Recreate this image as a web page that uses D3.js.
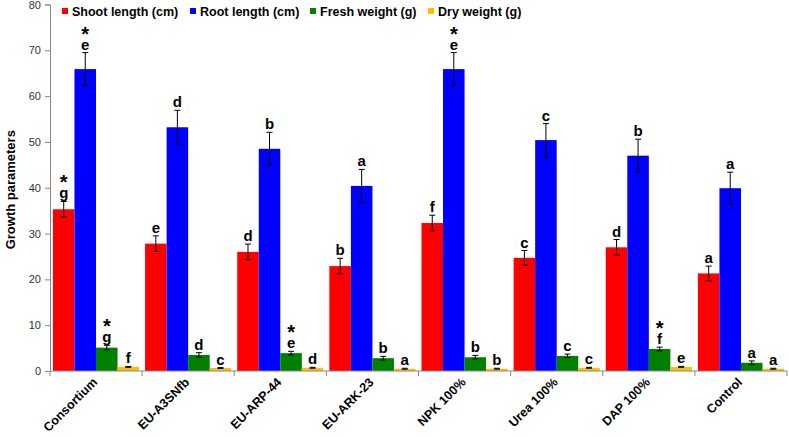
<!DOCTYPE html>
<html>
<head>
<meta charset="utf-8">
<script src="https://cdn.jsdelivr.net/npm/d3@7"></script>
<style>
  body { margin: 0; background: #fff; }
  svg { font-family: "Liberation Sans", Arial, sans-serif; }
</style>
</head>
<body>
<div id="container"></div>
<script>
const categories = ["Consortium", "EU-A3SNfb", "EU-ARP-44", "EU-ARK-23", "NPK 100%", "Urea 100%", "DAP 100%", "Control"];
const seriesNames = ["Shoot length (cm)", "Root length (cm)", "Fresh weight (g)", "Dry weight (g)"];
const seriesColors = ["#ff0000", "#0000ff", "#008000", "#ffc000"];

const shootLength = [35.3, 27.8, 26.0, 22.9, 32.3, 24.7, 27.0, 21.3];
const rootLength = [65.9, 53.2, 48.5, 40.4, 65.9, 50.4, 47.0, 39.9];
const freshWeight = [5.1, 3.5, 3.9, 2.8, 3.0, 3.3, 4.8, 1.8];
const dryWeight = [0.9, 0.65, 0.7, 0.5, 0.5, 0.7, 0.9, 0.5];

const shootErr = [1.7, 1.7, 1.7, 1.7, 1.7, 1.6, 1.7, 1.6];
const rootErr = [3.6, 3.7, 3.6, 3.6, 3.6, 3.6, 3.6, 3.5];
const freshErr = [0.5, 0.5, 0.4, 0.4, 0.4, 0.4, 0.4, 0.4];
const dryErr = [0.1, 0.1, 0.1, 0.1, 0.1, 0.1, 0.1, 0.1];

const shootLetters = ["g", "e", "d", "b", "f", "c", "d", "a"];
const rootLetters = ["e", "d", "b", "a", "e", "c", "b", "a"];
const freshLetters = ["g", "d", "e", "b", "b", "c", "f", "a"];
const dryLetters = ["f", "c", "d", "a", "b", "c", "e", "a"];

const shootStar = [1, 0, 0, 0, 0, 0, 0, 0];
const rootStar = [1, 0, 0, 0, 1, 0, 0, 0];
const freshStar = [1, 0, 1, 0, 0, 0, 1, 0];
const dryStar = [0, 0, 0, 0, 0, 0, 0, 0];

const yTicks = [0, 10, 20, 30, 40, 50, 60, 70, 80];

const values = [shootLength, rootLength, freshWeight, dryWeight];
const errors = [shootErr, rootErr, freshErr, dryErr];
const letters = [shootLetters, rootLetters, freshLetters, dryLetters];
const stars = [shootStar, rootStar, freshStar, dryStar];

const width = 789, height = 437;
const plotLeft = 50, plotRight = 787, plotTop = 4.5, plotBottom = 371;

const svg = d3.select("#container").append("svg")
  .attr("width", width)
  .attr("height", height);

const x = d3.scaleBand().domain(categories).range([plotLeft, plotRight]).paddingInner(0.065).paddingOuter(0.032);
const x1 = d3.scaleBand().domain(d3.range(4)).range([0, x.bandwidth()]);
const y = d3.scaleLinear().domain([0, 80]).range([plotBottom, plotTop]);

// bars
for (let s = 0; s < 4; s++) {
  const g = svg.append("g");
  categories.forEach((c, i) => {
    const v = values[s][i];
    const e = errors[s][i];
    const bx = x(c) + x1(s);
    const cx = bx + x1.bandwidth() / 2;
    g.append("rect")
      .attr("x", bx)
      .attr("y", y(v))
      .attr("width", x1.bandwidth())
      .attr("height", y(0) - y(v))
      .attr("fill", seriesColors[s]);
    // error bar
    g.append("line").attr("x1", cx).attr("x2", cx).attr("y1", y(v + e)).attr("y2", y(v - e))
      .attr("stroke", "#000").attr("stroke-width", 1);
    [v + e, v - e].forEach(t => {
      g.append("line").attr("x1", cx - 3).attr("x2", cx + 3).attr("y1", y(t)).attr("y2", y(t))
        .attr("stroke", "#000").attr("stroke-width", 1);
    });
    const ly = y(v + e) - 3;
    g.append("text")
      .attr("x", cx)
      .attr("y", ly)
      .attr("text-anchor", "middle")
      .attr("font-size", 15)
      .attr("font-weight", "bold")
      .attr("fill", "#000")
      .text(letters[s][i]);
    if (stars[s][i]) {
      g.append("text")
        .attr("x", cx)
        .attr("y", ly - 9)
        .attr("text-anchor", "middle")
        .attr("font-size", 20)
        .attr("font-weight", "bold")
        .attr("fill", "#000")
        .text("*");
    }
  });
}

// y axis
const yAxis = svg.append("g")
  .attr("transform", `translate(${plotLeft},0)`)
  .call(d3.axisLeft(y).tickValues(yTicks).tickSize(5).tickPadding(4));
yAxis.select(".domain").attr("stroke", "#888");
yAxis.selectAll(".tick line").attr("stroke", "#888");
yAxis.selectAll("text").attr("font-size", 11).attr("fill", "#333")
  .attr("font-family", "Liberation Sans, Arial, sans-serif");

// x axis
svg.append("line").attr("x1", plotLeft).attr("x2", plotRight).attr("y1", plotBottom).attr("y2", plotBottom)
  .attr("stroke", "#888");
const bounds = categories.map(c => x(c) - (x.step() - x.bandwidth()) / 2).concat([plotRight]);
bounds.forEach(b => {
  svg.append("line").attr("x1", b).attr("x2", b).attr("y1", plotBottom).attr("y2", plotBottom + 5)
    .attr("stroke", "#888");
});
categories.forEach(c => {
  const cx = x(c) + x.bandwidth() / 2;
  svg.append("text")
    .attr("transform", `translate(${cx + 2},${plotBottom + 12}) rotate(-45)`)
    .attr("text-anchor", "end")
    .attr("font-size", 12.5)
    .attr("font-weight", "bold")
    .attr("fill", "#000")
    .text(c);
});

// y title
svg.append("text")
  .attr("transform", `translate(15,${(plotBottom + plotTop) / 2 + 2}) rotate(-90)`)
  .attr("text-anchor", "middle")
  .attr("font-size", 13)
  .attr("font-weight", "bold")
  .text("Growth parameters");

// legend
const legendX = [62, 190, 310, 428];
seriesNames.forEach((n, i) => {
  svg.append("rect").attr("x", legendX[i]).attr("y", 8).attr("width", 6).attr("height", 6)
    .attr("fill", seriesColors[i]);
  svg.append("text").attr("x", legendX[i] + 10).attr("y", 16)
    .attr("font-size", 12.5).attr("font-weight", "bold").text(n);
});
</script>
</body>
</html>
